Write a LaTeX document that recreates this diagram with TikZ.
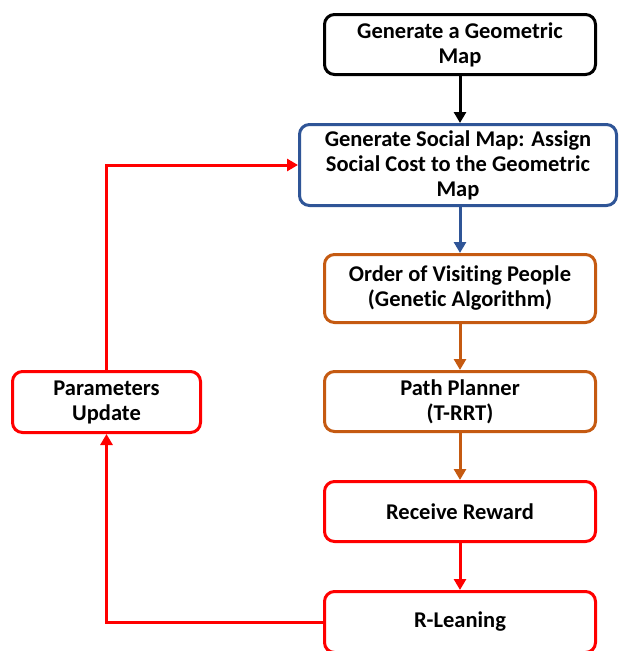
\documentclass[tikz,border=0pt]{standalone}
\usepackage{fontspec}
\setmainfont[Ligatures=NoCommon]{Carlito}
\usetikzlibrary{arrows.meta}
\definecolor{cblue}{RGB}{47,85,151}
\definecolor{corange}{RGB}{197,90,17}
\definecolor{cred}{RGB}{255,0,0}
\begin{document}
\begin{tikzpicture}[x=1pt,y=-1pt,
  box/.style={draw, line width=3pt, rounded corners=10pt, align=center,
    font=\bfseries\fontsize{22.5}{25}\selectfont, inner sep=0pt, fill=white},
  arr/.style={line width=3pt, -{Triangle[length=11pt,width=12pt]}}]
\useasboundingbox (0,0) rectangle (621,651);
\clip (0,0) rectangle (621,651);
\node[box, draw=black, minimum width=271pt, minimum height=60pt] (b1) at (460,44.5) {Generate a Geometric\\Map};
\node[box, draw=cblue, minimum width=317pt, minimum height=81pt] (b2) at (458,165) {Generate Social Map: Assign\\Social Cost to the Geometric\\Map};
\node[box, draw=corange, minimum width=271pt, minimum height=68pt] (b3) at (460,288.5) {Order of Visiting People\\(Genetic Algorithm)};
\node[box, draw=corange, minimum width=271pt, minimum height=60pt] (b4) at (460,401.5) {Path Planner\\(T-RRT)};
\node[box, draw=cred, minimum width=271pt, minimum height=60pt] (b5) at (460,511.5) {Receive Reward};
\node[box, draw=cred, minimum width=271pt, minimum height=61pt] (b6) at (460,622) {R-Leaning};
\node[box, draw=cred, minimum width=188pt, minimum height=61pt] (b7) at (106.5,402) {Parameters\\Update};
\draw[arr, black] (b1.south) -- (b1.south |- b2.north);
\draw[arr, cblue] (b2.south -| b3.north) -- (b3.north);
\draw[arr, corange] (b3.south) -- (b4.north);
\draw[arr, corange] (b4.south) -- (b5.north);
\draw[arr, cred] (b5.south) -- (b6.north);
\draw[arr, cred] (b6.west) -| (b7.south);
\draw[arr, cred] (b7.north) |- (b2.west);
\end{tikzpicture}
\end{document}
